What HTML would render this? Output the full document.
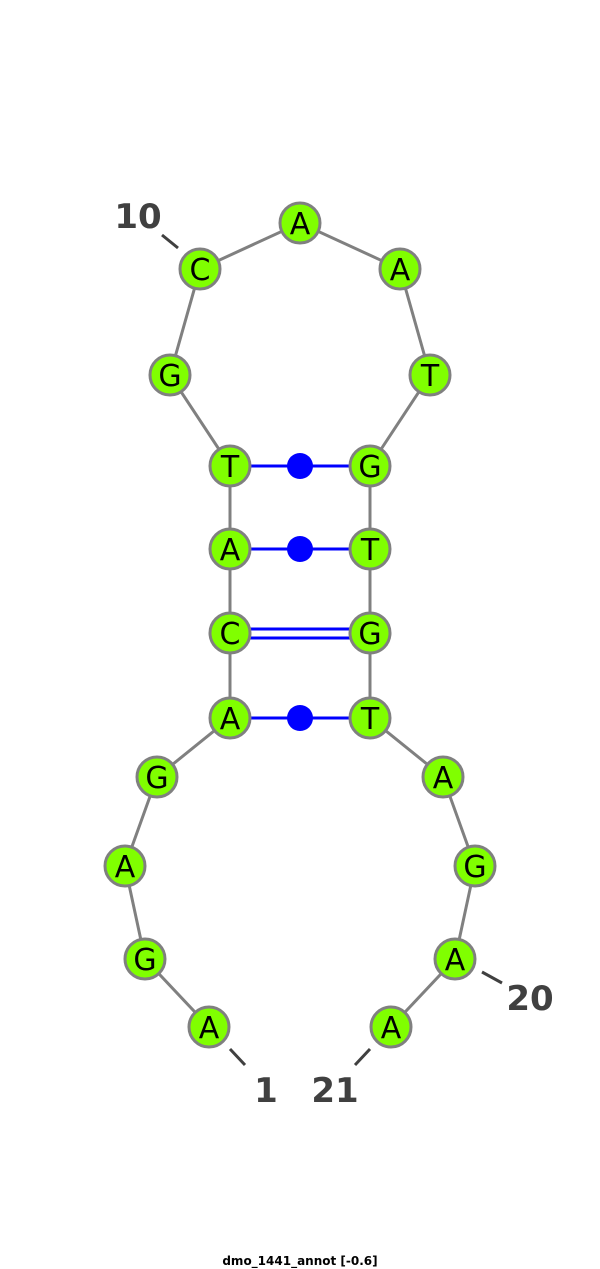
<!DOCTYPE html>
<html><head><style>body{margin:0;background:#fff}svg{display:block}</style></head><body>
<svg width="600" height="1269" viewBox="0 0 600 1269" xmlns="http://www.w3.org/2000/svg">
<g stroke="#808080" stroke-width="3" fill="none">
<polyline points="209,1027 145,959 125,866 157,777 230,718 230,633 230,549 230,466 170,375 200,269 300,223 400,269 430,375 370,466 370,549 370,633 370,718 443,777 475,866 455,959 391,1027"/>
</g>
<g stroke="#0000ff" stroke-width="3">
<line x1="230" y1="466" x2="370" y2="466"/>
<line x1="230" y1="549" x2="370" y2="549"/>
<line x1="230" y1="629" x2="370" y2="629"/>
<line x1="230" y1="638" x2="370" y2="638"/>
<line x1="230" y1="718" x2="370" y2="718"/>
</g>
<g fill="#0000ff">
<circle cx="300" cy="466" r="13"/><circle cx="300" cy="549" r="13"/><circle cx="300" cy="718" r="13"/>
</g>
<g stroke="#404040" stroke-width="3">
<line x1="162" y1="235" x2="178" y2="248"/>
<line x1="230" y1="1049" x2="245" y2="1065"/>
<line x1="370" y1="1049" x2="355" y2="1065"/>
<line x1="482" y1="972" x2="502" y2="983"/>
</g>
<g fill="#80ff00" stroke="#808080" stroke-width="3">
<circle cx="300" cy="223" r="20"/><circle cx="400" cy="269" r="20"/><circle cx="430" cy="375" r="20"/>
<circle cx="370" cy="466" r="20"/><circle cx="370" cy="549" r="20"/><circle cx="370" cy="633" r="20"/><circle cx="370" cy="718" r="20"/>
<circle cx="443" cy="777" r="20"/><circle cx="475" cy="866" r="20"/><circle cx="455" cy="959" r="20"/><circle cx="391" cy="1027" r="20"/>
<circle cx="200" cy="269" r="20"/><circle cx="170" cy="375" r="20"/><circle cx="230" cy="466" r="20"/><circle cx="230" cy="549" r="20"/>
<circle cx="230" cy="633" r="20"/><circle cx="230" cy="718" r="20"/><circle cx="157" cy="777" r="20"/><circle cx="125" cy="866" r="20"/>
<circle cx="145" cy="959" r="20"/><circle cx="209" cy="1027" r="20"/>
</g>
<g font-family="DejaVu Sans, sans-serif" font-size="30" text-anchor="middle" fill="#000">
<text x="300" y="234">A</text><text x="400" y="280">A</text><text x="430" y="386">T</text>
<text x="370" y="477">G</text><text x="370" y="560">T</text><text x="370" y="644">G</text><text x="370" y="729">T</text>
<text x="443" y="788">A</text><text x="475" y="877">G</text><text x="455" y="970">A</text><text x="391" y="1038">A</text>
<text x="200" y="280">C</text><text x="170" y="386">G</text><text x="230" y="477">T</text><text x="230" y="560">A</text>
<text x="230" y="644">C</text><text x="230" y="729">A</text><text x="157" y="788">G</text><text x="125" y="877">A</text>
<text x="145" y="970">G</text><text x="209" y="1038">A</text>
</g>
<g font-family="DejaVu Sans, sans-serif" font-size="34" font-weight="bold" fill="#404040" text-anchor="middle">
<text x="138" y="228">10</text>
<text x="266" y="1102">1</text>
<text x="335" y="1102">21</text>
<text x="530" y="1010">20</text>
</g>
<text x="300" y="1265" font-family="DejaVu Sans, sans-serif" font-size="12" font-weight="bold" text-anchor="middle" fill="#000">dmo_1441_annot [-0.6]</text>
</svg>
</body></html>
